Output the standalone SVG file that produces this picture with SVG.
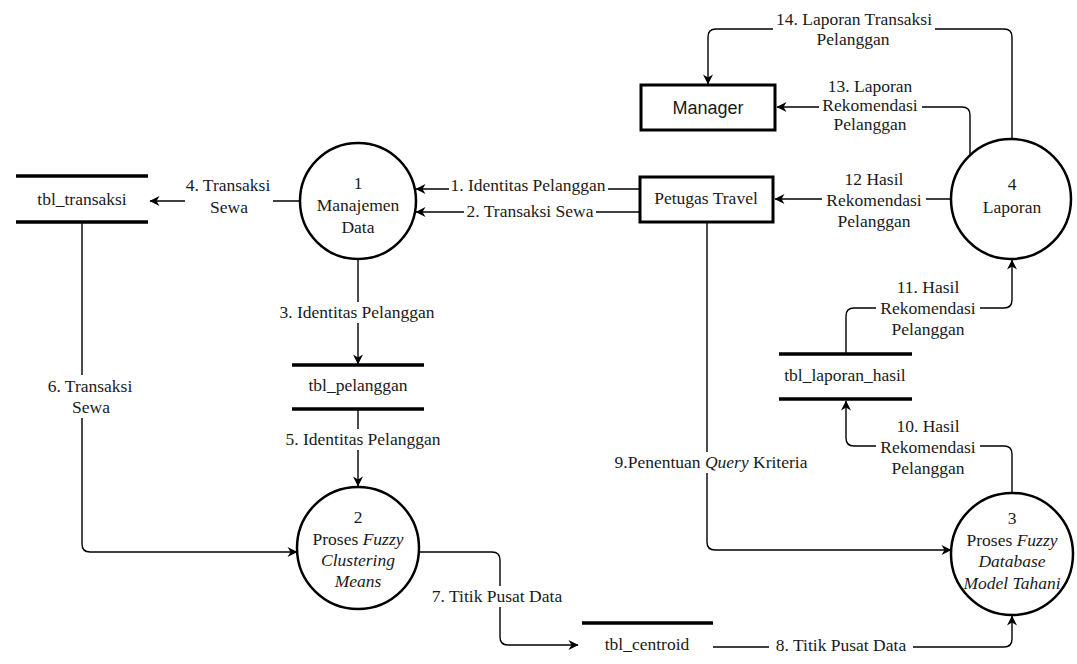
<svg xmlns="http://www.w3.org/2000/svg" width="1077" height="664" viewBox="0 0 1077 664">
  <style>
    .proc { fill: #fff; stroke: #000; stroke-width: 2.5; }
    .ent { fill: #fff; stroke: #000; stroke-width: 3; }
    .store { stroke: #000; stroke-width: 3.5; }
    .flow { fill: none; stroke: #000; stroke-width: 1.4; marker-end: url(#arrow); }
    .lblbg { fill: #fff; }
    text { font-family: "Liberation Serif", "Times New Roman", serif; font-size: 17.5px; fill: #1a1a1a; text-anchor: middle; }
    .sans { font-family: "Liberation Sans", Arial, sans-serif; font-size: 18px; }
    .it { font-style: italic; }
  </style>
  <defs>
    <marker id="arrow" viewBox="0 0 10 10" refX="9.5" refY="5" markerWidth="11" markerHeight="10" markerUnits="userSpaceOnUse" orient="auto">
      <path d="M0,0 L10,5 L0,10 L3,5 Z" fill="#000"/>
    </marker>
  </defs>
  <rect width="1077" height="664" fill="#fff"/>

  <!-- data flows -->
  <g id="connectors">
    <path class="flow" d="M640,189 H416"/>
    <path class="flow" d="M640,212 H416"/>
    <path class="flow" d="M358,259 V364"/>
    <path class="flow" d="M300,201 H150"/>
    <path class="flow" d="M358,409 V486"/>
    <path class="flow" d="M82,222 V544 Q82,552 90,552 H297"/>
    <path class="flow" d="M419,552 H492 Q500,552 500,560 V637 Q500,645 508,645 H578"/>
    <path class="flow" d="M713,647 H1004 Q1012,647 1012,639 V616"/>
    <path class="flow" d="M707,222 V542 Q707,550 715,550 H951"/>
    <path class="flow" d="M1012,493 V454 Q1012,446 1004,446 H854 Q846,446 846,438 V401"/>
    <path class="flow" d="M846,354 V316 Q846,308 854,308 H1004 Q1012,308 1012,300 V260"/>
    <path class="flow" d="M951,199 H775"/>
    <path class="flow" d="M970,157 V115 Q970,107 962,107 H777"/>
    <path class="flow" d="M1012,139 V37 Q1012,29 1004,29 H716 Q708,29 708,37 V84"/>
  </g>

  <!-- flow labels -->
  <g id="labels">
    <rect class="lblbg" x="449" y="177" width="159" height="19"/>
    <text x="528" y="191">1. Identitas Pelanggan</text>
    <rect class="lblbg" x="464" y="203" width="132" height="18"/>
    <text x="530" y="217">2. Transaksi Sewa</text>
    <rect class="lblbg" x="279" y="302" width="157" height="21"/>
    <text x="357" y="318">3. Identitas Pelanggan</text>
    <rect class="lblbg" x="185" y="175" width="88" height="45"/>
    <text x="228" y="191">4. Transaksi</text>
    <text x="229" y="213">Sewa</text>
    <rect class="lblbg" x="284" y="429" width="159" height="21"/>
    <text x="363" y="445">5. Identitas Pelanggan</text>
    <rect class="lblbg" x="45" y="375" width="91" height="43"/>
    <text x="90" y="392">6. Transaksi</text>
    <text x="91" y="413">Sewa</text>
    <rect class="lblbg" x="431" y="586" width="133" height="21"/>
    <text x="497" y="602">7. Titik Pusat Data</text>
    <rect class="lblbg" x="769" y="635" width="144" height="20"/>
    <text x="841" y="651">8. Titik Pusat Data</text>
    <rect class="lblbg" x="611" y="452" width="200" height="21"/>
    <text x="711" y="468">9.Penentuan <tspan class="it">Query</tspan> Kriteria</text>
    <rect class="lblbg" x="876" y="417" width="104" height="61"/>
    <text x="928" y="432">10. Hasil</text>
    <text x="928" y="453">Rekomendasi</text>
    <text x="928" y="474">Pelanggan</text>
    <rect class="lblbg" x="876" y="278" width="104" height="61"/>
    <text x="928" y="293">11. Hasil</text>
    <text x="928" y="314">Rekomendasi</text>
    <text x="928" y="335">Pelanggan</text>
    <rect class="lblbg" x="822" y="169" width="104" height="62"/>
    <text x="874" y="185">12 Hasil</text>
    <text x="874" y="206">Rekomendasi</text>
    <text x="874" y="227">Pelanggan</text>
    <rect class="lblbg" x="819" y="77" width="103" height="58"/>
    <text x="870" y="92">13. Laporan</text>
    <text x="870" y="111">Rekomendasi</text>
    <text x="870" y="130">Pelanggan</text>
    <rect class="lblbg" x="773" y="11" width="162" height="39"/>
    <text x="854" y="25">14. Laporan Transaksi</text>
    <text x="853" y="45">Pelanggan</text>
  </g>

  <!-- processes -->
  <g id="proc1">
    <circle class="proc" cx="358" cy="201" r="58"/>
    <text x="358" y="189">1</text>
    <text x="358" y="211">Manajemen</text>
    <text x="358" y="233">Data</text>
  </g>
  <g id="proc2">
    <circle class="proc" cx="358" cy="548" r="61"/>
    <text x="358" y="523">2</text>
    <text x="358" y="545">Proses <tspan class="it">Fuzzy</tspan></text>
    <text x="358" y="566" class="it">Clustering</text>
    <text x="358" y="587" class="it">Means</text>
  </g>
  <g id="proc3">
    <circle class="proc" cx="1012" cy="554" r="61"/>
    <text x="1012" y="524">3</text>
    <text x="1012" y="546">Proses <tspan class="it">Fuzzy</tspan></text>
    <text x="1012" y="567" class="it">Database</text>
    <text x="1012" y="589" class="it">Model Tahani</text>
  </g>
  <g id="proc4">
    <circle class="proc" cx="1011" cy="199" r="60"/>
    <text x="1012" y="190">4</text>
    <text x="1012" y="213">Laporan</text>
  </g>

  <!-- external entities -->
  <g id="petugas">
    <rect class="ent" x="640" y="177" width="133" height="45"/>
    <text x="706" y="204">Petugas Travel</text>
  </g>
  <g id="manager">
    <rect class="ent" x="641" y="85" width="134" height="45"/>
    <text x="708" y="114" class="sans">Manager</text>
  </g>

  <!-- data stores -->
  <g id="tbl_transaksi">
    <line class="store" x1="16" y1="176" x2="148" y2="176"/>
    <line class="store" x1="16" y1="222" x2="148" y2="222"/>
    <text x="82" y="205">tbl_transaksi</text>
  </g>
  <g id="tbl_pelanggan">
    <line class="store" x1="292" y1="365" x2="424" y2="365"/>
    <line class="store" x1="292" y1="409" x2="424" y2="409"/>
    <text x="358" y="391">tbl_pelanggan</text>
  </g>
  <g id="tbl_laporan_hasil">
    <line class="store" x1="779" y1="354" x2="912" y2="354"/>
    <line class="store" x1="779" y1="399" x2="912" y2="399"/>
    <text x="845" y="381">tbl_laporan_hasil</text>
  </g>
  <g id="tbl_centroid">
    <line class="store" x1="582" y1="623" x2="713" y2="623"/>
    <text x="647" y="650">tbl_centroid</text>
  </g>
</svg>
